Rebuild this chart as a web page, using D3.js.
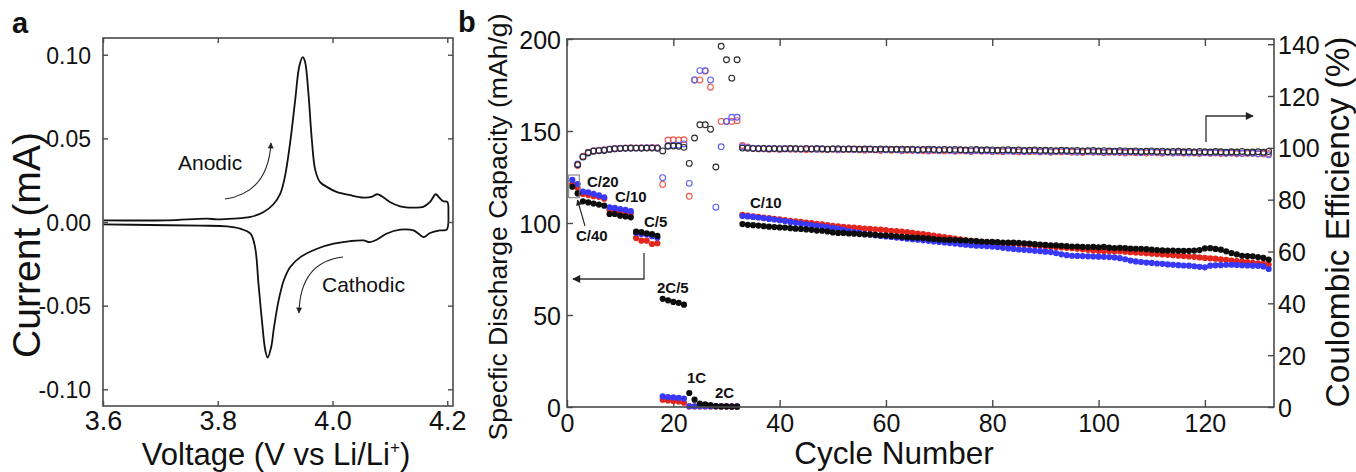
<!DOCTYPE html>
<html><head><meta charset="utf-8">
<script src="https://cdn.jsdelivr.net/npm/d3@7"></script>
<style>
body{margin:0;background:#fff}
svg{display:block}
text{font-family:"Liberation Sans",Arial,Helvetica,sans-serif;fill:#111}
</style>
</head><body>
<svg id="c" width="1356" height="472"></svg>
<script>
// ---------- Panel a: cyclic voltammogram ----------
const cvVoltage = [3.601,3.711,3.781,3.798,3.827,3.857,3.880,3.897,3.909,3.917,3.926,3.935,3.942,3.948,3.952,3.958,3.964,3.970,3.978,3.990,4.007,4.031,4.054,4.068,4.078,4.086,4.100,4.118,4.141,4.158,4.170,4.180,4.186,4.193,4.200,4.202,4.199,
  4.187,4.170,4.159,4.150,4.141,4.118,4.094,4.077,4.065,4.054,4.031,4.002,3.973,3.944,3.926,3.915,3.906,3.898,3.893,3.887,3.883,3.877,3.871,3.865,3.857,3.839,3.816,3.769,3.682,3.601];
const cvCurrent = [0.0010,0.0010,0.0020,0.0016,0.0020,0.0030,0.0060,0.0106,0.0170,0.0270,0.0470,0.0730,0.0930,0.0986,0.0960,0.0770,0.0490,0.0310,0.0240,0.0210,0.0180,0.0160,0.0146,0.0150,0.0166,0.0154,0.0120,0.0094,0.0086,0.0090,0.0120,0.0166,0.0146,0.0124,0.0120,0.0050,-0.0046,
  -0.0050,-0.0066,-0.0090,-0.0070,-0.0050,-0.0046,-0.0070,-0.0106,-0.0120,-0.0110,-0.0114,-0.0130,-0.0160,-0.0210,-0.0270,-0.0350,-0.0470,-0.0630,-0.0750,-0.0810,-0.0770,-0.0590,-0.0370,-0.0150,-0.0070,-0.0040,-0.0026,-0.0022,-0.0018,-0.0014];
const cvXTicks = [3.6, 3.8, 4.0, 4.2];
const cvYTicks = [-0.10, -0.05, 0.00, 0.05, 0.10];

// ---------- Panel b: rate capability / cycling (cycle = index + 1) ----------
const capBlack = [119.7,116.1,111.8,111.2,110.6,110.0,109.4,104.9,104.9,104.0,103.6,103.1,95.3,95.0,94.4,94.0,93.0,58.8,58.0,57.1,56.6,55.6,7.6,4.0,1.8,1.5,1.0,0.5,0.3,0.3,0.2,0.2,
  99.4,99.0,98.8,98.6,98.3,98.0,97.8,97.6,97.5,97.2,
  96.9,96.8,96.5,96.3,95.9,95.8,95.4,94.9,94.6,94.6,
  94.3,94.2,94.0,93.8,93.8,93.5,93.3,93.2,93.0,92.8,
  92.5,92.3,92.1,92.0,91.8,91.6,91.3,91.0,90.9,90.8,
  90.7,90.6,90.5,90.3,90.1,89.9,89.8,89.7,89.6,89.4,
  89.3,89.3,89.2,89.0,88.8,88.5,88.3,88.1,87.9,87.8,
  87.6,87.4,87.2,87.2,87.0,86.9,87.0,86.8,87.0,86.6,
  86.4,86.5,86.3,86.1,86.0,86.0,85.8,85.5,85.3,85.1,
  85.0,85.0,84.9,84.8,84.9,85.0,85.3,86.2,86.3,85.9,
  85.5,84.6,83.6,83.0,82.2,82.0,81.9,81.5,81.0,80.1];
const capRed = [121.2,119.0,115.8,115.2,114.6,114.2,113.2,107.1,106.8,106.4,106.0,105.3,91.9,90.4,90.4,88.6,89.0,4.0,3.6,3.2,3.0,2.3,0.3,0.3,0.3,0.3,0.3,0.3,0.3,0.3,0.3,0.3,
  104.4,104.0,103.6,103.3,102.9,102.6,102.3,102.0,101.6,101.2,
  100.9,100.6,100.2,99.9,99.5,99.2,98.8,98.5,98.2,97.9,
  97.7,97.5,97.2,97.0,96.8,96.6,96.4,96.1,95.8,95.6,
  95.3,95.0,94.6,94.2,93.9,93.5,93.1,92.7,92.3,91.9,
  91.5,91.1,90.7,90.3,90.0,89.7,89.4,89.2,89.0,88.9,
  88.8,88.7,88.6,88.4,88.2,87.9,87.6,87.4,87.1,86.9,
  86.7,86.5,86.3,86.0,85.7,85.4,85.1,84.9,84.8,84.8,
  84.7,84.6,84.4,84.1,83.9,83.7,83.5,83.3,83.1,82.9,
  82.7,82.5,82.2,82.0,81.8,81.6,81.3,81.0,80.8,80.6,
  80.3,80.0,79.6,79.3,79.0,78.7,78.4,78.1,77.8,77.4];
const capBlue = [123.4,121.2,117.0,116.6,115.8,115.0,114.0,108.5,108.2,107.6,107.1,106.4,94.6,94.0,93.8,92.8,92.0,5.8,5.4,5.2,5.0,4.6,0.4,0.4,0.4,0.4,0.4,0.4,0.4,0.4,0.4,0.4,
  103.8,103.6,103.3,103.0,102.6,102.2,101.9,101.5,101.1,100.6,
  100.1,99.7,99.3,98.9,98.5,98.2,97.8,97.4,97.0,96.3,
  95.6,95.1,94.6,94.1,93.7,93.3,93.0,92.7,92.4,92.1,
  91.8,91.5,91.2,90.9,90.6,90.3,90.0,89.7,89.4,89.1,
  88.8,88.5,88.2,87.9,87.7,87.6,87.4,87.2,86.9,86.5,
  86.2,85.9,85.6,85.4,85.2,84.9,84.7,84.4,84.2,83.6,
  83.0,82.5,82.2,82.1,82.0,81.9,81.8,81.7,81.6,81.5,
  81.3,80.9,80.3,79.6,79.1,78.8,78.5,78.3,78.0,77.8,
  77.5,77.3,77.1,76.9,76.8,76.5,76.2,75.9,76.8,77.0,
  77.1,77.3,77.3,77.2,77.0,76.9,76.8,76.7,76.4,75.0];
const ceBlack = [null,93.5,96.5,98.1,98.7,98.9,99.0,99.4,99.6,99.7,99.8,99.8,99.9,99.8,99.9,99.9,99.8,98.8,100.6,100.7,100.6,100.2,94.0,103.8,108.9,108.9,107.2,92.6,139.2,134.0,126.9,134.0,
  99.9,99.8,99.7,99.7,99.8,99.6,99.7,99.7,99.6,99.8,
  99.7,99.6,99.7,99.6,99.8,99.6,99.5,99.6,99.7,99.5,
  99.6,99.6,99.5,99.6,99.5,99.4,99.6,99.5,99.4,99.5,
  99.5,99.4,99.5,99.3,99.4,99.5,99.4,99.3,99.4,99.3,
  99.4,99.3,99.2,99.3,99.4,99.2,99.3,99.2,99.1,99.2,
  99.3,99.1,99.2,99.0,99.1,99.2,99.0,99.1,99.0,98.9,
  99.1,99.0,98.9,99.0,98.8,98.9,99.0,98.8,98.9,98.8,
  98.7,98.9,98.8,98.7,98.8,98.6,98.7,98.8,98.6,98.7,
  98.5,98.6,98.7,98.5,98.6,98.4,98.6,98.5,98.4,98.6,
  98.5,98.3,98.5,98.4,98.6,98.3,98.4,98.5,98.3,98.6];
const ceRed = [null,93.2,96.8,98.3,98.9,99.1,99.3,99.5,99.8,99.9,100.0,100.1,100.0,100.1,100.0,100.2,100.1,85.9,103.0,103.1,103.0,103.1,81.3,126.2,126.2,129.6,123.4,null,110.2,110.2,110.2,110.5,
  100.9,100.3,99.8,99.6,99.7,99.5,99.6,99.4,99.7,99.5,
  99.4,99.6,99.3,99.5,99.6,99.4,99.3,99.5,99.2,99.4,
  99.3,99.5,99.2,99.1,99.3,99.2,99.0,99.3,99.1,99.2,
  98.9,99.1,99.0,99.2,98.9,98.8,99.0,98.9,98.8,99.0,
  98.7,98.9,98.8,98.6,98.9,98.7,98.8,98.6,98.7,98.5,
  98.8,98.6,98.4,98.7,98.5,98.6,98.4,98.6,98.3,98.5,
  98.4,98.6,98.3,98.4,98.2,98.5,98.3,98.4,98.1,98.3,
  98.4,98.2,98.0,98.3,98.1,98.2,98.0,98.3,98.1,97.9,
  98.2,98.0,98.1,97.9,98.2,98.0,97.8,98.1,97.9,98.0,
  97.8,98.0,97.9,97.7,98.0,97.8,97.9,97.7,97.6,97.8];
const ceBlue = [null,93.8,96.5,98.0,98.8,99.0,99.2,99.5,99.7,99.8,99.9,100.0,99.9,100.0,100.1,100.0,100.0,88.5,100.8,101.0,101.0,101.5,86.3,126.2,129.8,129.8,126.2,77.1,100.4,110.2,111.8,111.8,
  100.4,100.1,99.9,99.8,99.6,99.8,99.7,99.5,99.8,99.6,
  99.7,99.5,99.8,99.6,99.4,99.7,99.5,99.6,99.4,99.5,
  99.6,99.3,99.5,99.4,99.6,99.3,99.4,99.2,99.5,99.3,
  99.1,99.4,99.2,99.0,99.3,99.1,99.2,99.0,99.3,99.1,
  98.9,99.2,99.0,98.8,99.1,98.9,99.0,98.7,99.0,98.8,
  98.9,98.7,98.9,98.6,98.8,98.9,98.6,98.8,98.5,98.7,
  98.8,98.6,98.7,98.4,98.6,98.7,98.5,98.6,98.3,98.6,
  98.4,98.5,98.3,98.6,98.4,98.2,98.5,98.3,98.4,98.2,
  98.4,98.1,98.3,98.2,98.0,98.3,98.1,98.2,98.0,98.2,
  98.1,97.9,98.2,98.0,97.8,98.1,97.9,97.7,98.0,97.3];
const cycleTicks = [0, 20, 40, 60, 80, 100, 120];
const capTicks = [0, 50, 100, 150, 200];
const ceTicks = [0, 20, 40, 60, 80, 100, 120, 140];
const rateLabels = ["C/40","C/20","C/10","C/5","2C/5","1C","2C","C/10"];

// ---------- drawing ----------
const svg = d3.select('#c');
const FRAME = '#4a4a4a';
const defs = svg.append('defs');
function mk(id, w, h){
  defs.append('marker').attr('id', id).attr('viewBox','0 0 10 10').attr('refX',9).attr('refY',5)
    .attr('markerWidth', w).attr('markerHeight', h).attr('orient','auto').attr('markerUnits','userSpaceOnUse')
    .append('path').attr('d','M0,0 L10,5 L0,10 z').attr('fill','#222');
}
mk('ah', 9, 8); mk('ahs', 7, 6);

function styleAxis(g, fs){
  g.select('.domain').remove();
  g.attr('font-family', null).attr('font-size', fs);
  g.selectAll('.tick line').attr('stroke', FRAME).attr('stroke-width', 1.4);
  g.selectAll('.tick text').attr('fill', '#111');
}

// Panel a
const ax = d3.scaleLinear().domain([3.6, 4.21]).range([103, 453]);
const ay = d3.scaleLinear().domain([-0.11, 0.11]).range([406, 38]);
const ga = svg.append('g');
ga.append('path')
  .datum(cvVoltage.map((v, i) => [v, cvCurrent[i]]))
  .attr('d', d3.line().x(d => ax(d[0])).y(d => ay(d[1])).curve(d3.curveCatmullRom.alpha(0.5)))
  .attr('fill', 'none').attr('stroke', '#111').attr('stroke-width', 1.8).attr('stroke-linejoin','round');

let g;
g = ga.append('g').attr('transform','translate(0,406)')
  .call(d3.axisBottom(ax).tickValues(cvXTicks).tickSizeInner(-5).tickSizeOuter(0).tickFormat(d3.format('.1f')));
styleAxis(g, 27); g.selectAll('.tick text').attr('y', 24).attr('dy', 0);
g = ga.append('g').attr('transform','translate(0,38)')
  .call(d3.axisTop(ax).tickValues(cvXTicks).tickSizeInner(-5).tickSizeOuter(0).tickFormat(''));
styleAxis(g, 10);
g = ga.append('g').attr('transform','translate(103,0)')
  .call(d3.axisLeft(ay).tickValues(cvYTicks).tickSizeInner(-5).tickSizeOuter(0).tickFormat(d3.format('.2f')));
styleAxis(g, 23); g.selectAll('.tick text').attr('x', -12).attr('dy', '0.36em').text(d => d3.format('.2f')(d).replace('−','-'));
g = ga.append('g').attr('transform','translate(453,0)')
  .call(d3.axisRight(ay).tickValues(cvYTicks).tickSizeInner(-5).tickSizeOuter(0).tickFormat(''));
styleAxis(g, 10);
ga.append('rect').attr('x', 103).attr('y', 38).attr('width', 350).attr('height', 368)
  .attr('fill','none').attr('stroke', FRAME).attr('stroke-width', 1.6);

// annotations a
ga.append('path').attr('d','M225,199 Q268,193 271,143').attr('fill','none').attr('stroke','#222').attr('stroke-width',1.1).attr('marker-end','url(#ahs)');
ga.append('path').attr('d','M343,257 Q300,262 299,313').attr('fill','none').attr('stroke','#222').attr('stroke-width',1.1).attr('marker-end','url(#ahs)');
ga.append('text').attr('x',178).attr('y',170).attr('font-size',21).text('Anodic');
ga.append('text').attr('x',322).attr('y',292).attr('font-size',21).text('Cathodic');

ga.append('text').attr('x',276).attr('y',465).attr('text-anchor','middle').attr('font-size',31)
  .call(t => { t.append('tspan').text('Voltage (V vs Li/Li'); t.append('tspan').attr('font-size',17).attr('dy',-12).text('+'); t.append('tspan').attr('dy',12).text(')'); });
ga.append('text').attr('transform','translate(40,245) rotate(-90)').attr('text-anchor','middle').attr('font-size',38)
  .attr('textLength',226).attr('lengthAdjust','spacingAndGlyphs').text('Current (mA)');
ga.append('text').attr('x',12).attr('y',33).attr('font-size',29).attr('font-weight','bold').text('a');

// Panel b
const bx = d3.scaleLinear().domain([0, 133]).range([567, 1274]);
const by = d3.scaleLinear().domain([0, 200]).range([407, 39]);
const bce = d3.scaleLinear().domain([0, 142]).range([407, 39]);
const gb = svg.append('g');

g = gb.append('g').attr('transform','translate(0,407)')
  .call(d3.axisBottom(bx).tickValues(cycleTicks).tickSizeInner(-7).tickSizeOuter(0));
styleAxis(g, 25); g.selectAll('.tick text').attr('y', 25).attr('dy', 0);
g = gb.append('g').attr('transform','translate(0,39)')
  .call(d3.axisTop(bx).tickValues(cycleTicks).tickSizeInner(-7).tickSizeOuter(0).tickFormat(''));
styleAxis(g, 10);
g = gb.append('g').attr('transform','translate(567,0)')
  .call(d3.axisLeft(by).tickValues(capTicks).tickSizeInner(-6).tickSizeOuter(0));
styleAxis(g, 25); g.selectAll('.tick text').attr('x', -6).attr('dy', '0.36em');
g = gb.append('g').attr('transform','translate(1274,0)')
  .call(d3.axisRight(bce).tickValues(ceTicks).tickSizeInner(-6).tickSizeOuter(0));
styleAxis(g, 25); g.selectAll('.tick text').attr('x', 4).attr('dy', '0.36em');

// open circles: coulombic efficiency
const ceSets = [[ceRed,'#f0574c'],[ceBlue,'#5d5df2'],[ceBlack,'#2a2a2a']];
ceSets.forEach(([arr, col]) => {
  gb.append('g').selectAll('circle')
    .data(arr.map((v, i) => [i + 1, v]).filter(d => d[1] != null))
    .join('circle').attr('cx', d => bx(d[0])).attr('cy', d => bce(d[1])).attr('r', 2.9)
    .attr('fill', 'none').attr('stroke', col).attr('stroke-width', 1.1);
});
// filled circles: capacity
const capSets = [[capRed,'#e3261d'],[capBlue,'#3838f6'],[capBlack,'#0d0d0d']];
capSets.forEach(([arr, col]) => {
  gb.append('g').selectAll('circle')
    .data(arr.map((v, i) => [i + 1, v]))
    .join('circle').attr('cx', d => bx(d[0])).attr('cy', d => by(d[1])).attr('r', 3.1)
    .attr('fill', col);
});

gb.append('rect').attr('x', 567).attr('y', 39).attr('width', 707).attr('height', 368)
  .attr('fill','none').attr('stroke', FRAME).attr('stroke-width', 1.6);

// annotations b
const lab = (t, x, y) => gb.append('text').attr('x', x).attr('y', y).attr('font-size', 15).attr('font-weight','bold').text(t);
lab(rateLabels[0], 576, 241);
lab(rateLabels[1], 587, 187);
lab(rateLabels[2], 615, 202);
lab(rateLabels[3], 644, 227);
lab(rateLabels[4], 657, 293);
lab(rateLabels[5], 687, 383);
lab(rateLabels[6], 715, 398);
lab(rateLabels[7], 750, 208);
gb.append('rect').attr('x', 568.7).attr('y', 175).attr('width', 10.6).attr('height', 22.7)
  .attr('fill','none').attr('stroke','#777').attr('stroke-width',1);
gb.append('path').attr('d','M585,226 L577.5,200').attr('stroke','#222').attr('stroke-width',1.1).attr('marker-end','url(#ahs)');
gb.append('path').attr('d','M644,253 L644,279 L573,279').attr('fill','none').attr('stroke','#333').attr('stroke-width',1.3).attr('marker-end','url(#ah)');
gb.append('path').attr('d','M1206,142 L1206,116 L1253,116').attr('fill','none').attr('stroke','#333').attr('stroke-width',1.3).attr('marker-end','url(#ah)');

gb.append('text').attr('x', 894).attr('y', 464).attr('text-anchor','middle').attr('font-size', 31.5).text('Cycle Number');
gb.append('text').attr('transform','translate(507,227) rotate(-90)').attr('text-anchor','middle').attr('font-size',26.5)
  .attr('textLength',427).attr('lengthAdjust','spacingAndGlyphs').text('Specfic Discharge Capacity (mAh/g)');
gb.append('text').attr('transform','translate(1349,222) rotate(-90)').attr('text-anchor','middle').attr('font-size',34)
  .attr('textLength',371).attr('lengthAdjust','spacingAndGlyphs').text('Coulombic Efficiency (%)');
gb.append('text').attr('x',458).attr('y',32).attr('font-size',29).attr('font-weight','bold').text('b');
</script>
</body></html>
